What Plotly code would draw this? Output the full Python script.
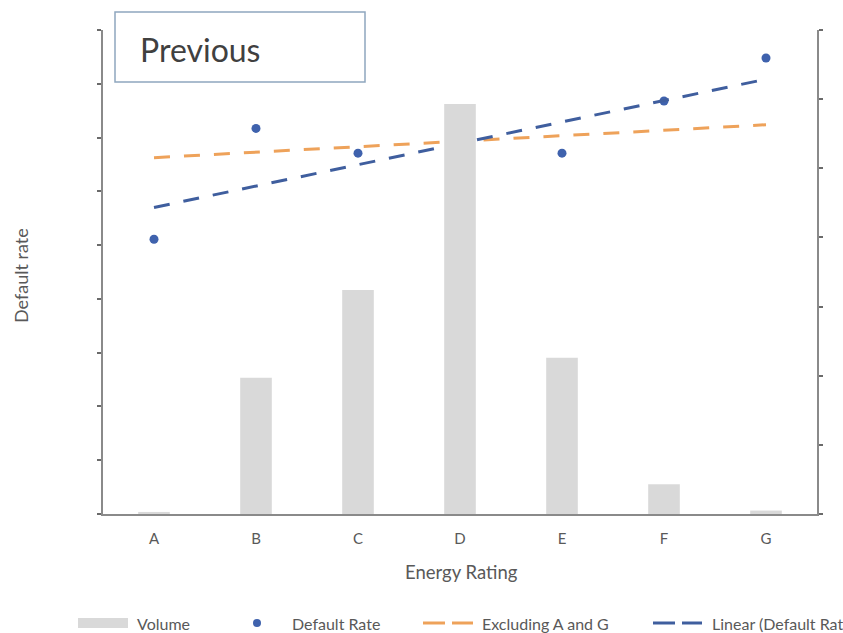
import numpy as np
import plotly.graph_objects as go

# Energy rating bands
ratings = ["A", "B", "C", "D", "E", "F", "G"]
# Loan volume per band (secondary axis)
volume = [0.03, 1.97, 3.24, 5.93, 2.26, 0.43, 0.05]
# Default rate per band (primary axis)
default_rate = [5.11, 7.17, 6.71, 6.39, 6.71, 7.68, 8.48]

xi = np.arange(len(ratings))
dr = np.array(default_rate)

# Linear trend over all bands
k_all, b_all = np.polyfit(xi, dr, 1)
trend_all = k_all * xi + b_all
# Linear trend excluding the end bands A and G
k_mid, b_mid = np.polyfit(xi[1:-1], dr[1:-1], 1)
trend_mid = k_mid * xi + b_mid

FONT = "Lato, 'Open Sans', sans-serif"
TXT = "#595959"
BAR_C = "#d9d9d9"
DOT_C = "#3f62ad"
ORANGE = "#eea25a"
BLUE = "#3f5e9e"
DASH = "16px,14px"

W, H = 843, 633
L, R, T, B = 103, 26, 30, 119


def px(x):
    return (x - L) / (W - L - R)


def py(y):
    return (H - B - y) / (H - T - B)


fig = go.Figure()
fig.add_trace(go.Bar(
    x=ratings, y=volume, name="Volume", yaxis="y2",
    marker=dict(color=BAR_C, line=dict(width=0)), width=0.31,
))
fig.add_trace(go.Scatter(
    x=ratings, y=default_rate, name="Default Rate", mode="markers",
    marker=dict(color=DOT_C, size=9),
))
fig.add_trace(go.Scatter(
    x=ratings, y=trend_mid, name="Excluding A and G", mode="lines",
    line=dict(color=ORANGE, width=3, dash=DASH),
))
fig.add_trace(go.Scatter(
    x=ratings, y=trend_all, name="Linear (Default Rate)", mode="lines",
    line=dict(color=BLUE, width=3, dash=DASH),
))

axis_line = dict(showline=True, linecolor="#8a8a8a", linewidth=2,
                 showgrid=False, zeroline=False, ticks="outside",
                 ticklen=4, tickcolor="#6a6a6a", tickwidth=1.5)

fig.update_layout(
    width=W, height=H,
    margin=dict(l=L, r=R, t=T, b=B, autoexpand=False),
    paper_bgcolor="white", plot_bgcolor="white",
    font=dict(family=FONT, size=16, color=TXT),
    showlegend=False,
    xaxis=dict(showline=True, linecolor="#8a8a8a", linewidth=2,
               showgrid=False, zeroline=False, ticks="",
               ticklabelstandoff=10,
               tickfont=dict(size=15, color=TXT)),
    yaxis=dict(range=[0, 9], dtick=1, showticklabels=False, **axis_line),
    yaxis2=dict(range=[0, 7], dtick=1, showticklabels=False,
                overlaying="y", side="right", **axis_line),
)

# Title box
fig.add_shape(type="rect", xref="paper", yref="paper",
              x0=px(115), x1=px(365), y0=py(82), y1=py(12),
              line=dict(color="#8fa7bf", width=1.5), fillcolor="white")
fig.add_annotation(text="Previous", xref="paper", yref="paper",
                   x=px(138), y=py(49), xanchor="left", yanchor="middle",
                   showarrow=False, font=dict(size=32, color="#404040", family=FONT))

# Axis titles
fig.add_annotation(text="Default rate", xref="paper", yref="paper",
                   x=px(21), y=py(276), textangle=-90, showarrow=False,
                   xanchor="center", yanchor="middle",
                   font=dict(size=18, color=TXT, family=FONT))
fig.add_annotation(text="Energy Rating", xref="paper", yref="paper",
                   x=px(461), y=py(572), showarrow=False,
                   xanchor="center", yanchor="middle",
                   font=dict(size=18.5, color=TXT, family=FONT))

# Legend row along the bottom
LY = 623
fig.add_shape(type="rect", xref="paper", yref="paper",
              x0=px(78), x1=px(128), y0=py(628), y1=py(618),
              line=dict(width=0), fillcolor=BAR_C)
fig.add_shape(type="circle", xref="paper", yref="paper",
              x0=px(253), x1=px(261), y0=py(627), y1=py(619),
              line=dict(width=0), fillcolor=DOT_C)
for x0, x1, c in [(423, 445, ORANGE), (452, 473, ORANGE),
                  (653, 675, BLUE), (682, 702, BLUE)]:
    fig.add_shape(type="line", xref="paper", yref="paper",
                  x0=px(x0), x1=px(x1), y0=py(LY), y1=py(LY),
                  line=dict(color=c, width=3))
for label, x0 in [("Volume", 135), ("Default Rate", 290),
                  ("Excluding A and G", 480), ("Linear (Default Rate)", 710)]:
    fig.add_annotation(text=label, xref="paper", yref="paper",
                       x=px(x0), y=py(LY), xanchor="left", yanchor="middle",
                       showarrow=False,
                       font=dict(size=16, color=TXT, family=FONT))

fig.write_html("out.html")
